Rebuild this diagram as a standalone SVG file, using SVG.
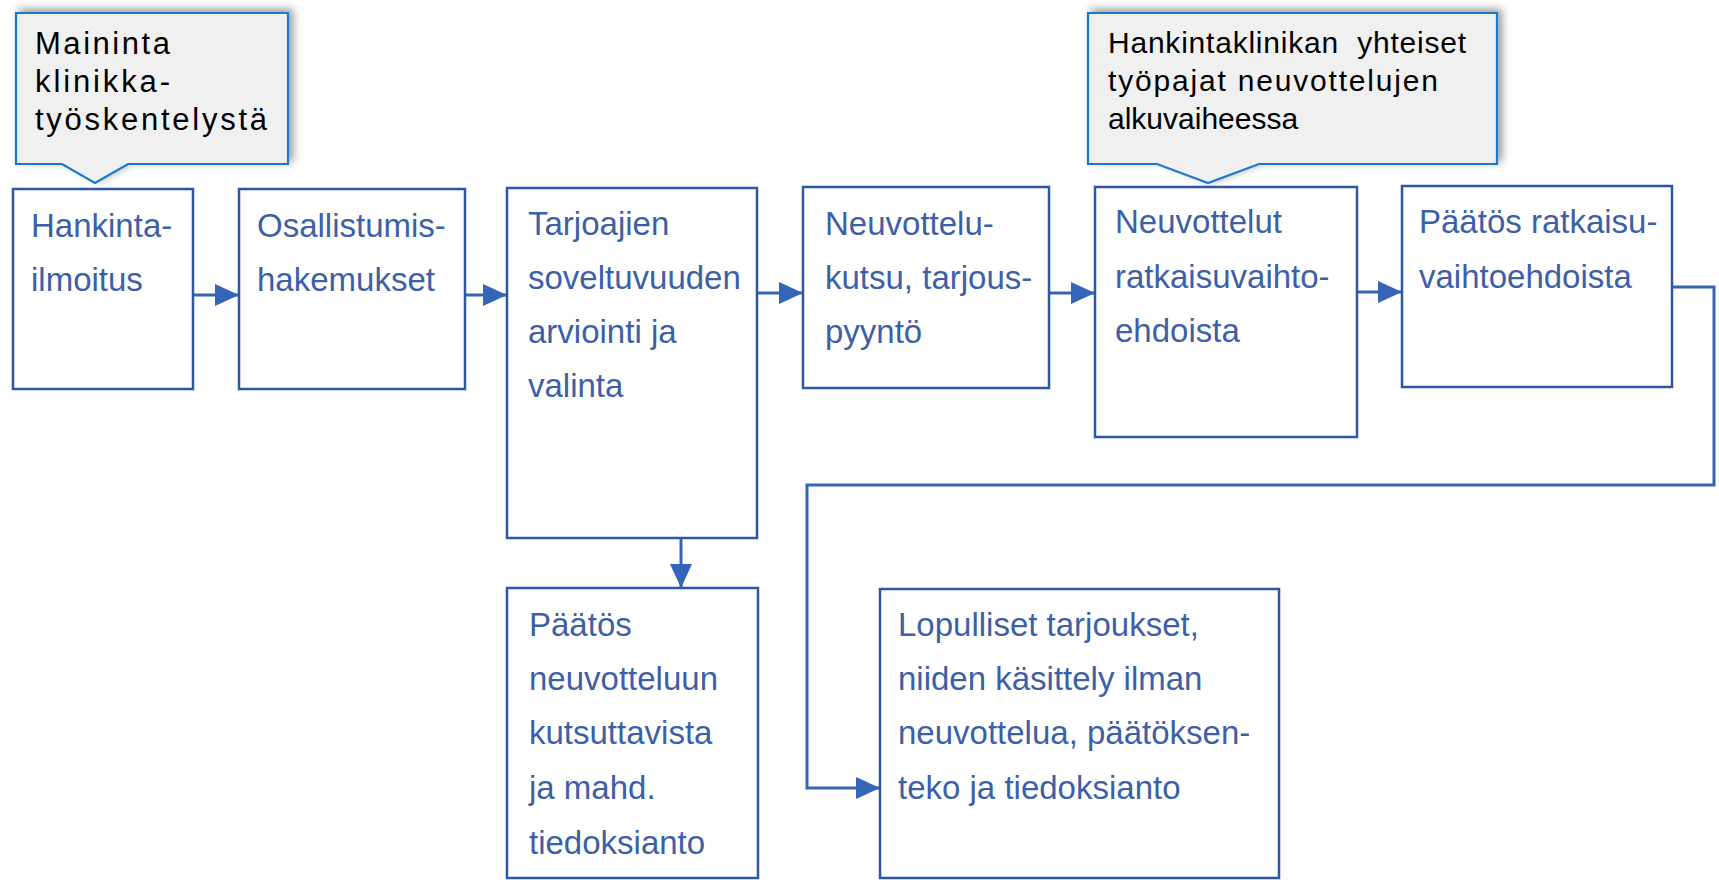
<svg xmlns="http://www.w3.org/2000/svg" width="1719" height="880" viewBox="0 0 1719 880">
<defs>
<style>
.box{fill:#ffffff;stroke:#2f55a5;stroke-width:2.5}
.txt{font-family:"Liberation Sans",Arial,sans-serif;font-size:33px;fill:#3d5fa7}
.call{fill:#f0f0f0;stroke:#1f78cc;stroke-width:2.2}
.ctxt{font-family:"Liberation Sans",Arial,sans-serif;fill:#000000}
.con{fill:none;stroke:#3565b8;stroke-width:3}
</style>
<marker id="ah2" viewBox="0 0 10 10" refX="10" refY="5" markerWidth="24" markerHeight="22" markerUnits="userSpaceOnUse" orient="auto" preserveAspectRatio="none">
<path d="M0,0 L10,5 L0,10 Z" fill="#3565b8"/>
</marker>
<filter id="sh" x="-10%" y="-20%" width="125%" height="140%">
<feDropShadow dx="4" dy="-3" stdDeviation="4" flood-color="#000" flood-opacity="0.4"/>
</filter>
</defs>
<rect width="1719" height="880" fill="#ffffff"/>

<g id="connectors">
<line class="con" x1="193" y1="295" x2="239" y2="295" marker-end="url(#ah2)"/>
<line class="con" x1="465" y1="295" x2="507" y2="295" marker-end="url(#ah2)"/>
<line class="con" x1="757" y1="293" x2="803" y2="293" marker-end="url(#ah2)"/>
<line class="con" x1="1049" y1="293" x2="1095" y2="293" marker-end="url(#ah2)"/>
<line class="con" x1="1357" y1="292" x2="1402" y2="292" marker-end="url(#ah2)"/>
<line class="con" x1="681" y1="538" x2="681" y2="588" marker-end="url(#ah2)"/>
<polyline class="con" points="1672,287 1714,287 1714,485 807,485 807,788 880,788" marker-end="url(#ah2)"/>
</g>

<g id="n1">
<rect class="box" x="13" y="189" width="180" height="200"/>
<text class="txt" x="31" y="237">Hankinta-</text>
<text class="txt" x="31" y="291">ilmoitus</text>
</g>
<g id="n2">
<rect class="box" x="239" y="189" width="226" height="200"/>
<text class="txt" x="257" y="237">Osallistumis-</text>
<text class="txt" x="257" y="291">hakemukset</text>
</g>
<g id="n3">
<rect class="box" x="507" y="188" width="250" height="350"/>
<text class="txt" x="528" y="235">Tarjoajien</text>
<text class="txt" x="528" y="289">soveltuvuuden</text>
<text class="txt" x="528" y="343">arviointi ja</text>
<text class="txt" x="528" y="397">valinta</text>
</g>
<g id="n4">
<rect class="box" x="803" y="187" width="246" height="201"/>
<text class="txt" x="825" y="235">Neuvottelu-</text>
<text class="txt" x="825" y="289">kutsu, tarjous-</text>
<text class="txt" x="825" y="343">pyyntö</text>
</g>
<g id="n5">
<rect class="box" x="1095" y="187" width="262" height="250"/>
<text class="txt" x="1115" y="233">Neuvottelut</text>
<text class="txt" x="1115" y="288">ratkaisuvaihto-</text>
<text class="txt" x="1115" y="342">ehdoista</text>
</g>
<g id="n6">
<rect class="box" x="1402" y="186" width="270" height="201"/>
<text class="txt" x="1419" y="233">Päätös ratkaisu-</text>
<text class="txt" x="1419" y="288">vaihtoehdoista</text>
</g>
<g id="n7">
<rect class="box" x="507" y="588" width="251" height="290"/>
<text class="txt" x="529" y="636">Päätös</text>
<text class="txt" x="529" y="690">neuvotteluun</text>
<text class="txt" x="529" y="744">kutsuttavista</text>
<text class="txt" x="529" y="799">ja mahd.</text>
<text class="txt" x="529" y="854">tiedoksianto</text>
</g>
<g id="n8">
<rect class="box" x="880" y="589" width="399" height="289"/>
<text class="txt" x="898" y="636">Lopulliset tarjoukset,</text>
<text class="txt" x="898" y="690">niiden käsittely ilman</text>
<text class="txt" x="898" y="744">neuvottelua, päätöksen-</text>
<text class="txt" x="898" y="799">teko ja tiedoksianto</text>
</g>

<g id="callout1">
<path class="call" filter="url(#sh)" d="M16,13 H288 V164 H128 L95,183 L62,164 H16 Z"/>
<text class="ctxt" font-size="31" x="35" y="54" textLength="135" lengthAdjust="spacing">Maininta</text>
<text class="ctxt" font-size="31" x="35" y="92" textLength="135" lengthAdjust="spacing">klinikka-</text>
<text class="ctxt" font-size="31" x="35" y="130" textLength="232" lengthAdjust="spacing">työskentelystä</text>
</g>
<g id="callout2">
<path class="call" filter="url(#sh)" d="M1088,13 H1497 V164 H1259 L1208,183 L1157,164 H1088 Z"/>
<text class="ctxt" font-size="30" x="1108" y="53" textLength="358" lengthAdjust="spacing" xml:space="preserve">Hankintaklinikan  yhteiset</text>
<text class="ctxt" font-size="30" x="1108" y="91" textLength="330" lengthAdjust="spacing">työpajat neuvottelujen</text>
<text class="ctxt" font-size="30" x="1108" y="129">alkuvaiheessa</text>
</g>
</svg>
